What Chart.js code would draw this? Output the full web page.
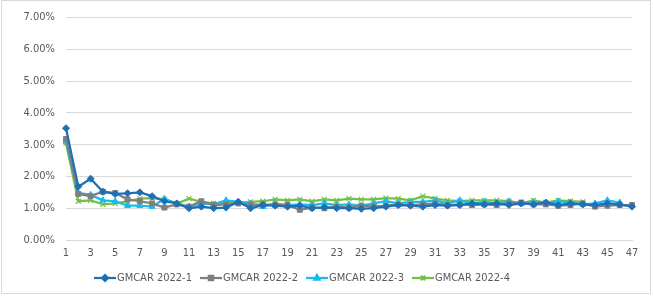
<!DOCTYPE html>
<html>
<head>
<meta charset="utf-8">
<script src="https://cdn.jsdelivr.net/npm/chart.js@4.4.1/dist/chart.umd.min.js"></script>
<style>
  html, body { margin: 0; padding: 0; background: #ffffff; }
  #wrap { position: relative; width: 653px; height: 296px; }
</style>
</head>
<body>
<div id="wrap"><canvas id="c" width="653" height="296"></canvas></div>
<script>
const categories = Array.from({length: 47}, (_, i) => String(i + 1));

const seriesNames = ['GMCAR 2022-1', 'GMCAR 2022-2', 'GMCAR 2022-3', 'GMCAR 2022-4'];

const gmcar2022_1 = [3.52, 1.68, 1.93, 1.52, 1.45, 1.47, 1.50, 1.38, 1.22, 1.15,
  1.00, 1.05, 1.00, 1.02, 1.20, 1.00, 1.10, 1.08, 1.05, 1.08,
  1.00, 1.03, 1.00, 1.00, 0.98, 1.00, 1.05, 1.10, 1.08, 1.05,
  1.10, 1.08, 1.10, 1.15, 1.12, 1.15, 1.10, 1.15, 1.12, 1.18,
  1.10, 1.15, 1.12, 1.10, 1.15, 1.12, 1.05];

const gmcar2022_2 = [3.18, 1.45, 1.38, 1.52, 1.48, 1.28, 1.22, 1.15, 1.02, 1.12,
  1.05, 1.22, 1.10, 1.12, 1.15, 1.10, 1.12, 1.10, 1.10, 0.95,
  1.02, 1.00, 1.05, 1.02, 1.08, 1.05, 1.08, 1.12, 1.10, 1.12,
  1.15, 1.10, 1.12, 1.10, 1.12, 1.10, 1.15, 1.18, 1.12, 1.12,
  1.08, 1.10, 1.15, 1.05, 1.08, 1.10, 1.10];

const gmcar2022_3 = [3.10, 1.48, 1.42, 1.25, 1.22, 1.08, 1.08, 1.05, 1.30, 1.15,
  1.05, 1.15, 1.12, 1.25, 1.20, 1.15, 1.05, 1.15, 1.10, 1.12,
  1.10, 1.15, 1.10, 1.12, 1.08, 1.15, 1.22, 1.15, 1.20, 1.20,
  1.25, 1.15, 1.25, 1.15, 1.20, 1.15, 1.22, 1.15, 1.20, 1.15,
  1.22, 1.18, 1.12, 1.15, 1.25, 1.18];

const gmcar2022_4 = [3.05, 1.22, 1.25, 1.12, 1.15, 1.22, 1.30, 1.32, 1.28, 1.15,
  1.30, 1.20, 1.15, 1.15, 1.18, 1.20, 1.22, 1.28, 1.25, 1.28,
  1.22, 1.28, 1.25, 1.30, 1.28, 1.28, 1.32, 1.30, 1.25, 1.38,
  1.30, 1.25, 1.22, 1.25, 1.25, 1.25, 1.22, 1.15, 1.25, 1.18,
  1.25, 1.22, 1.20];

const yTicks = [0, 1, 2, 3, 4, 5, 6, 7];

const colors = ['#1F6EB8', '#7F7F7F', '#17BDEA', '#72C046'];
const markers = ['rectRot', 'rect', 'triangle', 'crossRot'];
const seriesData = [gmcar2022_1, gmcar2022_2, gmcar2022_3, gmcar2022_4];

const FONT = "'Liberation Sans Narrow', 'DejaVu Sans Condensed', 'Liberation Sans', sans-serif";

const datasets = seriesData.map((d, i) => ({
  label: seriesNames[i],
  data: d,
  borderColor: colors[i],
  backgroundColor: colors[i],
  borderWidth: 2.25,
  pointStyle: markers[i],
  pointRadius: i === 3 ? 3.5 : 3.5,
  pointBorderWidth: i === 3 ? 1.2 : 1,
  pointBackgroundColor: colors[i],
  pointBorderColor: colors[i],
  tension: 0,
  fill: false
}));

const legendPlugin = {
  id: 'customLegend',
  afterDraw(chart) {
    const ctx = chart.ctx;
    ctx.save();
    // chart outline
    ctx.strokeStyle = '#D9D9D9';
    ctx.lineWidth = 1;
    ctx.strokeRect(1.5, 0.5, 649, 293);
    const y = 278;
    let x0 = 94;
    ctx.font = "11px " + FONT;
    ctx.textBaseline = 'middle';
    ctx.textAlign = 'left';
    chart.data.datasets.forEach((ds, i) => {
      ctx.strokeStyle = ds.borderColor;
      ctx.lineWidth = 2.25;
      ctx.beginPath();
      ctx.moveTo(x0, y);
      ctx.lineTo(x0 + 22, y);
      ctx.stroke();
      Chart.helpers.drawPoint(ctx, {
        pointStyle: ds.pointStyle,
        radius: 3,
        borderWidth: 1,
        rotation: 0
      }, x0 + 11, y);
      ctx.fillStyle = ds.borderColor;
      ctx.strokeStyle = ds.borderColor;
      ctx.lineWidth = 1;
      const opts = {pointStyle: ds.pointStyle, radius: 3, borderWidth: 1, rotation: 0};
      ctx.beginPath();
      Chart.helpers.drawPoint(ctx, opts, x0 + 11, y);
      ctx.fillStyle = '#595959';
      ctx.fillText(ds.label, x0 + 23, y);
      x0 += 106;
    });
    ctx.restore();
  }
};

new Chart(document.getElementById('c'), {
  type: 'line',
  data: { labels: categories, datasets },
  options: {
    responsive: false,
    animation: false,
    devicePixelRatio: 1,
    layout: { padding: { left: 0, right: 21, top: 16, bottom: 34 } },
    plugins: {
      legend: { display: false },
      tooltip: { enabled: false }
    },
    scales: {
      x: {
        offset: false,
        grid: { display: false, drawTicks: false },
        border: { display: true, color: '#D9D9D9', width: 1 },
        ticks: {
          autoSkip: false,
          maxRotation: 0,
          padding: 7,
          color: '#595959',
          font: { size: 11, family: FONT },
          callback: function(v, i) { return (i % 2 === 0) ? categories[i] : ''; }
        },
        afterFit: s => { s.height = 22; }
      },
      y: {
        min: yTicks[0],
        max: yTicks[yTicks.length - 1],
        afterBuildTicks: s => { s.ticks = yTicks.map(v => ({ value: v })); },
        grid: { color: '#D9D9D9', lineWidth: 1, drawTicks: false },
        border: { display: false },
        ticks: {
          padding: 11,
          color: '#595959',
          font: { size: 11, family: FONT },
          callback: v => Number(v).toFixed(2) + '%'
        },
        afterFit: s => { s.width = 66; }
      }
    }
  },
  plugins: [legendPlugin]
});
</script>
</body>
</html>
